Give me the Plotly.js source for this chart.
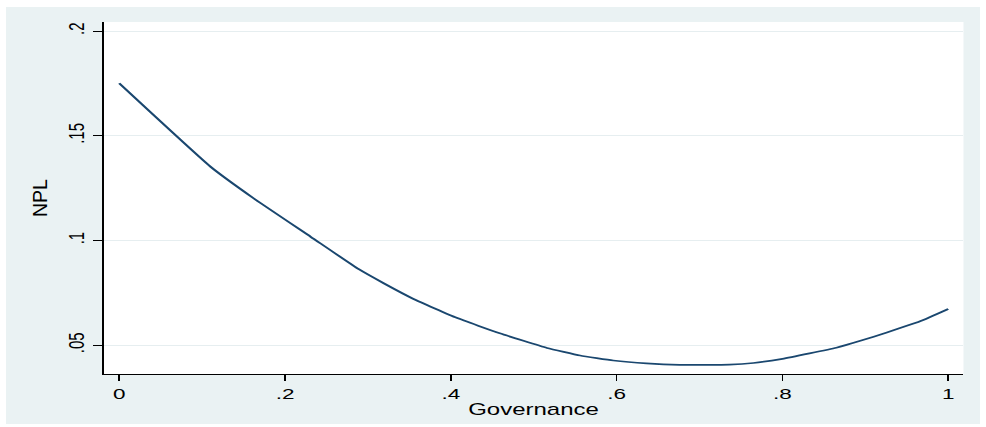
<!DOCTYPE html>
<html><head><meta charset="utf-8">
<script src="https://cdn.plot.ly/plotly-3.0.1.min.js"></script>
<style>
html,body{margin:0;padding:0;background:#fff;width:986px;height:427px;overflow:hidden;}
#chart{position:absolute;left:6px;top:7px;width:649px;height:417px;transform:scaleX(1.50077);transform-origin:0 0;}
</style></head><body><div id="chart"></div>
<script>
const governance=[0,0.110,0.162,0.231,0.289,0.319,0.355,0.407,0.459,0.516,0.556,0.596,0.636,0.676,0.736,0.765,0.800,0.865,0.894,0.926,0.966,1.0];
const npl=[0.175,0.1352,0.1201,0.1017,0.0862,0.0795,0.0720,0.0630,0.0556,0.0486,0.0450,0.0426,0.0412,0.0405,0.0406,0.0414,0.0434,0.0487,0.0520,0.0560,0.0613,0.0672];
const xTickVals=[0,0.2,0.4,0.6,0.8,1];
const xTickText=['0','.2','.4','.6','.8','1'];
const yTickVals=[0.05,0.1,0.15,0.2];
const yTickText=['.05','.1','.15','.2'];
const xTitle='Governance';
const yTitle='NPL';

const S=1.50077;
const trace={x:governance,y:npl,type:'scatter',mode:'lines',
  line:{color:'#1A476F',width:1.7,shape:'spline',smoothing:0.4},hoverinfo:'skip',showlegend:false};
const font={family:'"Liberation Sans", Arial, sans-serif',color:'#000'};
const layout={
  width:649,height:417,
  paper_bgcolor:'#EAF2F3',plot_bgcolor:'#ffffff',
  margin:{l:97/S,r:16/S,t:15,b:50,pad:0},
  font:font,showlegend:false,
  xaxis:{range:[-0.0189,1.0184],tickvals:xTickVals,ticktext:xTickText,
    showgrid:false,zeroline:false,showline:true,linecolor:'#000',linewidth:1,
    ticks:'outside',ticklen:6,tickwidth:1,tickcolor:'#000',
    tickfont:{family:font.family,size:15,color:'#000'},
    title:{text:xTitle,font:{family:font.family,size:16,color:'#000'},standoff:2},
    fixedrange:true},
  yaxis:{range:[0.03615,0.2043],tickvals:yTickVals,ticktext:yTickText,
    showgrid:true,gridcolor:'#E6EEF0',gridwidth:1,zeroline:false,showline:true,linecolor:'#000',linewidth:1,
    ticks:'outside',ticklen:6,tickwidth:1,tickcolor:'#000',tickangle:-90,
    tickfont:{family:font.family,size:15,color:'#000'},
    title:{text:yTitle,font:{family:font.family,size:14,color:'#000'}},
    fixedrange:true}
};
Plotly.newPlot('chart',[trace],layout,{staticPlot:true,displayModeBar:false}).then(function(gd){
  const yt=gd.querySelector('.ytitle');
  if(yt){yt.setAttribute('textLength','38');yt.setAttribute('lengthAdjust','spacingAndGlyphs');}
});
</script></body></html>
